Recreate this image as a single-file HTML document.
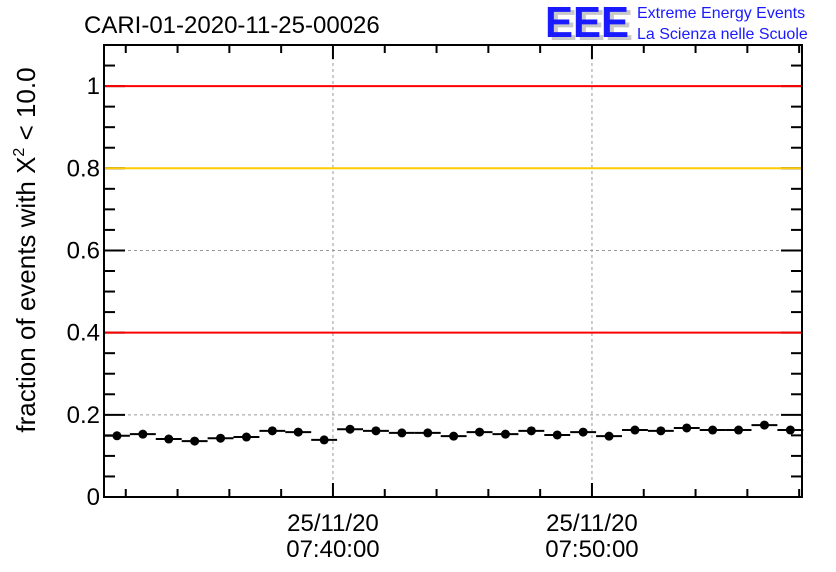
<!DOCTYPE html>
<html><head><meta charset="utf-8"><style>
body{margin:0;background:#fff}
svg{display:block;font-family:"Liberation Sans",sans-serif}
</style></head><body>
<svg id="chart" width="836" height="572" viewBox="0 0 836 572">
<text x="84" y="33" font-size="24" fill="#000">CARI-01-2020-11-25-00026</text>
<g>
<text x="549" y="40" font-size="44" font-weight="bold" fill="#c8c8c8" textLength="84" lengthAdjust="spacingAndGlyphs">EEE</text>
<text x="545" y="37" font-size="44" font-weight="bold" fill="#1a1aff" textLength="84" lengthAdjust="spacingAndGlyphs">EEE</text>
<text x="637" y="18" font-size="16" fill="#1a1aff">Extreme Energy Events</text>
<text x="637" y="39" font-size="16" fill="#1a1aff">La Scienza nelle Scuole</text>
</g>
<text transform="translate(35,250) rotate(-90)" text-anchor="middle" font-size="26">fraction of events with X<tspan dy="-11" font-size="16">2</tspan><tspan dy="11"> &lt; 10.0</tspan></text>
<g id="grid"></g>
<g id="ticks"></g>
<g id="lines"></g>
<g id="marks"></g>
<rect x="104" y="45" width="698" height="452" fill="none" stroke="#000" stroke-width="2"/>
<g id="labels"></g>
</svg>
<script>
const values=[0.149,0.153,0.141,0.136,0.143,0.146,0.161,0.158,0.139,0.165,0.161,0.156,0.156,0.148,0.158,0.153,0.161,0.151,0.158,0.148,0.163,0.161,0.168,0.163,0.163,0.175,0.163];
const binMinutes=[0,1,2,3,4,5,6,7,8,9,10,11,12,13,14,15,16,17,18,19,20,21,22,23,24,25,26];
const yTicks=[0,0.2,0.4,0.6,0.8,1];
const yTickLabels=["0","0.2","0.4","0.6","0.8","1"];
const xMajor=[8.84,18.84];
const xMajorLabels=[["25/11/20","07:40:00"],["25/11/20","07:50:00"]];
const refLines=[{v:1,c:"#ff0000",n:"threshold-line-1"},{v:0.8,c:"#ffcc00",n:"threshold-line-0-8"},{v:0.4,c:"#ff0000",n:"threshold-line-0-4"}];
const L=104,R=802,T=45,B=497;
const xMin=0,xMax=26.95;
function xs(m){return L+(m-xMin)/(xMax-xMin)*(R-L);}
function ys(v){return B-v/1.1*(B-T);}
const NS="http://www.w3.org/2000/svg";
function mk(p,t,a){const e=document.createElementNS(NS,t);for(const k in a)e.setAttribute(k,a[k]);p.appendChild(e);return e;}
const g=document.getElementById('grid'),ln=document.getElementById('lines'),mg=document.getElementById('marks'),tk=document.getElementById('ticks'),lb=document.getElementById('labels');
yTicks.forEach((v,i)=>{
 if(v>0&&v<1){const e=mk(g,'line',{x1:L,x2:R,y1:ys(v),y2:ys(v),stroke:'#999','stroke-dasharray':'3,3'});
 
 }
 const t=mk(lb,'text',{x:L-4,y:ys(v)+8,'text-anchor':'end','font-size':24});t.textContent=yTickLabels[i];
 
 
});
for(let k=0;k<=22;k++){const v=k*0.05,y=ys(v);const len=(k%4==0)?21:11;
 mk(tk,'line',{x1:L,x2:L+len,y1:y,y2:y,stroke:'#000','stroke-width':2});
 mk(tk,'line',{x1:R,x2:R-len,y1:y,y2:y,stroke:'#000','stroke-width':2});}
xMajor.forEach((m,i)=>{const x=xs(m);
 const e=mk(g,'line',{x1:x,x2:x,y1:T,y2:B,stroke:'#999','stroke-dasharray':'3,3'});
 
 
 xMajorLabels[i].forEach((s,j)=>{const t=mk(lb,'text',{x:x,y:531+j*26,'text-anchor':'middle','font-size':24});t.textContent=s;
 
 });
});
for(let m=xMajor[0]-8;m<=xMax;m+=2){const x=xs(m);const maj=xMajor.some(q=>Math.abs(q-m)<0.01);const len=maj?14:8;
 mk(tk,'line',{x1:x,x2:x,y1:B,y2:B-len,stroke:'#000','stroke-width':2});
 mk(tk,'line',{x1:x,x2:x,y1:T,y2:T+len,stroke:'#000','stroke-width':2});}
refLines.forEach(r=>{const e=mk(ln,'line',{x1:L,x2:R,y1:ys(r.v),y2:ys(r.v),stroke:r.c,'stroke-width':2});
 
 });
values.forEach((v,i)=>{const m=binMinutes[i];
 const e=mk(mg,'line',{x1:xs(m),x2:xs(m+1),y1:ys(v),y2:ys(v),stroke:'#000','stroke-width':2});
 
 
 const c=mk(mg,'circle',{cx:xs(m+0.5),cy:ys(v),r:4.5,fill:'#000'});
 
 
});
</script>
</body></html>
